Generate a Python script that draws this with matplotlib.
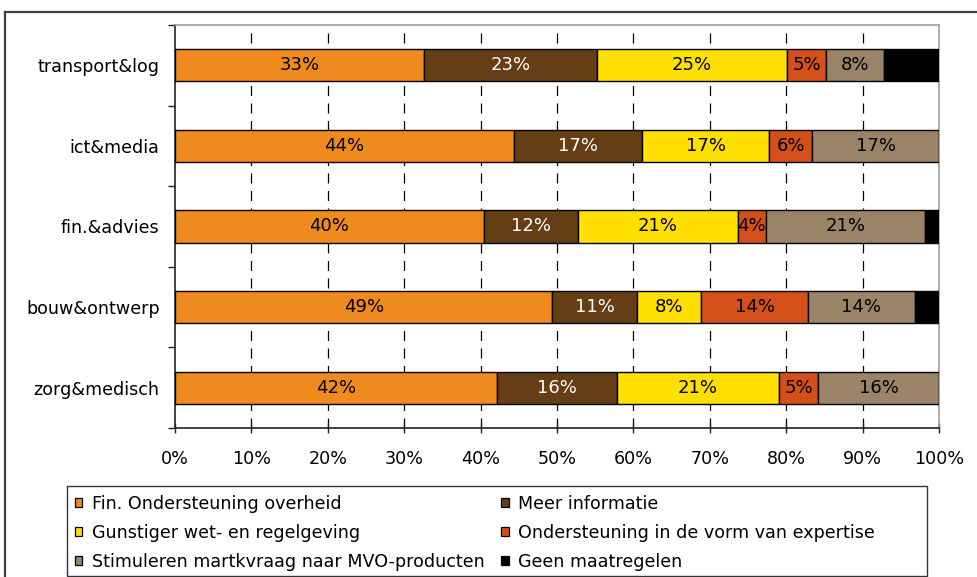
import matplotlib
matplotlib.use("Agg")
import matplotlib.pyplot as plt
from matplotlib.patches import Rectangle
from matplotlib.lines import Line2D
import numpy as np

plt.rcParams['font.family'] = ['DejaVu Sans']

# Sectors, top to bottom
sectors = ["transport&log", "ict&media", "fin.&advies", "bouw&ontwerp", "zorg&medisch"]

# Share of respondents per measure (percent), one list per measure
fin_ondersteuning = [32.6, 44.4, 40.4, 49.4, 42.1]
meer_informatie   = [22.6, 16.7, 12.3, 11.1, 15.8]
gunstiger_wet     = [24.9, 16.7, 21.0, 8.4, 21.1]
expertise         = [5.1, 5.6, 3.6, 14.0, 5.2]
stimuleren        = [7.6, 16.6, 20.9, 13.9, 15.8]
geen_maatregelen  = [7.2, 0.0, 1.8, 3.2, 0.0]

series_names = [
    "Fin. Ondersteuning overheid",
    "Meer informatie",
    "Gunstiger wet- en regelgeving",
    "Ondersteuning in de vorm van expertise",
    "Stimuleren martkvraag naar MVO-producten",
    "Geen maatregelen",
]
series = [fin_ondersteuning, meer_informatie, gunstiger_wet, expertise, stimuleren, geen_maatregelen]
colors = ["#EF8A1F", "#663E15", "#FFDF00", "#D4501A", "#9B8368", "#000000"]
label_colors = ["black", "white", "black", "black", "black", None]

FS = 12.6
W, H = 978, 577
fig = plt.figure(figsize=(W / 100, H / 100), dpi=100)

# outer chart frame
fig.add_artist(Line2D([5 / W, 1], [1 - 12 / H, 1 - 12 / H], color="#404040", lw=1.6))
fig.add_artist(Line2D([5 / W, 5 / W], [1 - 12 / H, 0], color="#404040", lw=1.6))

ax = fig.add_axes([175 / W, 1 - 428 / H, (939 - 175) / W, (428 - 25) / H])

n = len(sectors)
ypos = np.arange(n)[::-1]  # first sector on top
left = np.zeros(n)
bar_h = 0.4
for vals, name, col, lc in zip(series, series_names, colors, label_colors):
    vals = np.array(vals)
    ax.barh(ypos, vals, left=left, height=bar_h, color=col, edgecolor="black",
            linewidth=1.0, label=name, zorder=3)
    if lc is not None:
        for y, l, v in zip(ypos, left, vals):
            if v > 0:
                ax.text(l + v / 2, y, f"{int(np.floor(v + 0.5))}%", ha="center", va="center",
                        color=lc, fontsize=FS + 0.4, zorder=4)
    left += vals

ax.set_xlim(0, 100)
ax.set_ylim(-0.5, n - 0.5)

ax.set_xticks(np.arange(0, 101, 10))
ax.set_xticklabels([f"{v}%" for v in range(0, 101, 10)], fontsize=FS)
ax.tick_params(axis="x", direction="inout", length=7, width=1, pad=12, colors="#222222",
               labelcolor="black")

ax.set_yticks(ypos)
ax.set_yticklabels(sectors, fontsize=FS)
ax.tick_params(axis="y", which="major", length=0, pad=11)
ax.set_yticks(np.arange(-0.5, n, 1.0), minor=True)
ax.tick_params(axis="y", which="minor", direction="out", length=5, width=1, colors="#222222")

# dashed vertical gridlines behind the bars
for xv in range(10, 100, 10):
    ax.axvline(xv, color="black", lw=0.9, ls=(0, (8, 6)), zorder=1)

for side in ("top", "right"):
    ax.spines[side].set_color("#A0A0A0")
    ax.spines[side].set_linewidth(1.2)
for side in ("left", "bottom"):
    ax.spines[side].set_color("#222222")
    ax.spines[side].set_linewidth(1.2)

# legend box
fig.add_artist(Rectangle((67 / W, 1 - 576 / H), (927 - 67) / W, (576 - 486) / H,
                         transform=fig.transFigure, facecolor="none", edgecolor="#333333",
                         linewidth=1.0))

# legend entries, filled row by row
handles = [Rectangle((0, 0), 1, 1, facecolor=c, edgecolor="black", linewidth=0.9) for c in colors]
order = [0, 2, 4, 1, 3, 5]
leg = fig.legend([handles[i] for i in order], [series_names[i] for i in order],
                 ncol=2, loc="upper left", bbox_to_anchor=(75 / W, 1 - 495 / H),
                 fontsize=FS, frameon=False,
                 handlelength=0.42, handleheight=0.42, handletextpad=0.55,
                 columnspacing=0.95, labelspacing=0.62, borderpad=0.0, borderaxespad=0)

fig.savefig("out.png", dpi=100)
